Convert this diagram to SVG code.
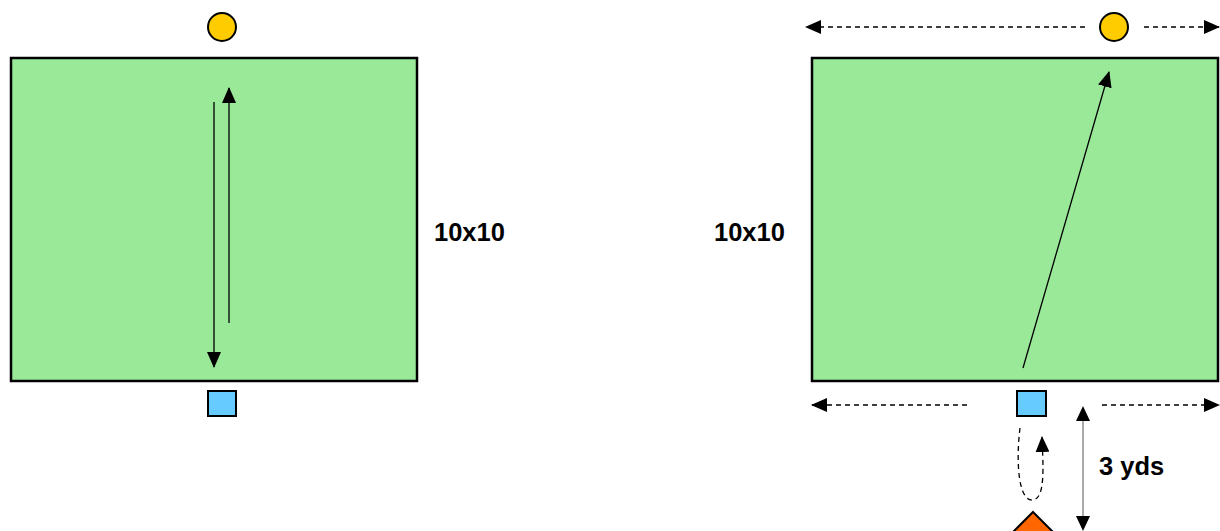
<svg xmlns="http://www.w3.org/2000/svg" width="1220" height="531" viewBox="0 0 1220 531">
<style>
.field{fill:#99e999;stroke:#000;stroke-width:2.5}
.ball{fill:#ffcc00;stroke:#000;stroke-width:2}
.sq{fill:#66ccff;stroke:#000;stroke-width:2}
.cone{fill:#ff6600;stroke:#000;stroke-width:2}
.lbl{font-family:"Liberation Sans",Arial,sans-serif;font-weight:bold;font-size:25.5px;fill:#000}
.run{stroke:#000;stroke-width:1.3;fill:none}
.dash{stroke:#000;stroke-width:1.3;fill:none;stroke-dasharray:5,4}
.dim{stroke:#aaa;stroke-width:2;fill:none}
</style>
<defs>
<marker id="ah" viewBox="0 0 16 14" refX="15" refY="7" markerWidth="16" markerHeight="14" markerUnits="userSpaceOnUse" orient="auto">
<path d="M0,0 L16,7 L0,14 Z" fill="#000"/>
</marker>
</defs>
<g id="field-left"><rect class="field" x="11" y="58" width="406" height="323"/></g>
<g id="field-right"><rect class="field" x="812" y="58" width="406" height="323"/></g>
<g id="ball-left"><circle class="ball" cx="222" cy="27" r="14"/></g>
<g id="ball-right"><circle class="ball" cx="1114" cy="27" r="14"/></g>
<g id="player-left"><rect class="sq" x="208" y="391" width="28" height="25"/></g>
<g id="player-right"><rect class="sq" x="1017" y="391" width="29" height="25"/></g>
<g id="cone"><polygon class="cone" points="1033,512 1056,535 1033,558 1010,535"/></g>
<g id="label-left"><text class="lbl" x="434" y="241">10x10</text></g>
<g id="label-right"><text class="lbl" x="714" y="241">10x10</text></g>
<g id="label-yds"><text class="lbl" x="1099" y="475">3 yds</text></g>
<g id="connectors">
<line class="run" x1="214" y1="102" x2="214" y2="367" marker-end="url(#ah)"/>
<line class="run" x1="229" y1="323" x2="229" y2="88" marker-end="url(#ah)"/>
<line class="run" x1="1023" y1="368" x2="1109" y2="72" marker-end="url(#ah)"/>
<line class="dash" x1="1085" y1="27" x2="806" y2="27" marker-end="url(#ah)"/>
<line class="dash" x1="1144" y1="27" x2="1219" y2="27" marker-end="url(#ah)"/>
<line class="dash" x1="967" y1="405" x2="812" y2="405" marker-end="url(#ah)"/>
<line class="dash" x1="1102" y1="405" x2="1219" y2="405" marker-end="url(#ah)"/>
<path class="dash" d="M1020,428 C1016,460 1018,500 1032,500 C1046,500 1043,465 1042,437" marker-end="url(#ah)"/>
<line class="dim" x1="1083" y1="420" x2="1083" y2="518"/>
<path d="M1083,406 L1090,421 L1076,421 Z" fill="#000"/>
<path d="M1083,531 L1090,516 L1076,516 Z" fill="#000"/>
</g>
</svg>
